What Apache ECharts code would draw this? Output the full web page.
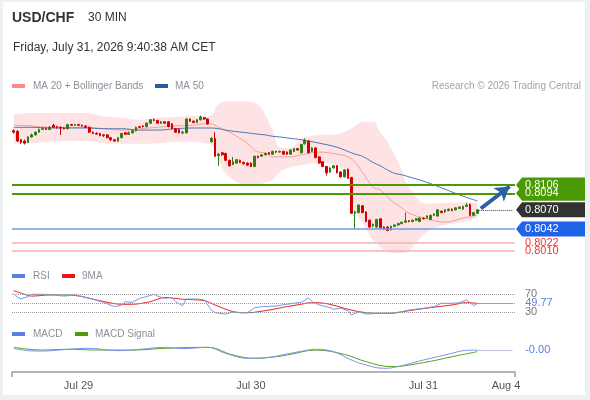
<!DOCTYPE html>
<html>
<head>
<meta charset="utf-8">
<title>USD/CHF 30 MIN</title>
<script src="https://cdn.jsdelivr.net/npm/echarts@6/dist/echarts.min.js"></script>
<style>
    html, body { margin: 0; padding: 0; background: #fff; }
    #wrap { position: relative; width: 590px; height: 400px; }
    #chart_1 { width: 590px; height: 400px; }
    #frame {
        position: absolute; left: 0; top: 0; width: 582px; height: 393px;
        border-style: solid; border-color: #edf1f4; border-width: 2px 5px 5px 3px;
        pointer-events: none;
    }
</style>
</head>
<body>
<div id="wrap">
    <div id="chart_1"></div>
    <div id="frame"></div>
</div>
<script>
// 30 min candles, Jul 28 afternoon -> Jul 31 09:30
var opens = [
    0.8185, 0.8184, 0.8172, 0.8170, 0.8168, 0.8176, 0.8179, 0.8183, 0.8187, 0.8188,
    0.8187, 0.8193, 0.8191, 0.8190, 0.8189, 0.8188, 0.8194, 0.8193, 0.8194, 0.8193,
    0.8192, 0.8190, 0.8183, 0.8181, 0.8181, 0.8179, 0.8179, 0.8175, 0.8172, 0.8170,
    0.8175, 0.8182, 0.8180, 0.8182, 0.8185, 0.8191, 0.8192, 0.8191, 0.8196, 0.8201,
    0.8200, 0.8196, 0.8198, 0.8198, 0.8195, 0.8188, 0.8187, 0.8182, 0.8182, 0.8202,
    0.8199, 0.8197, 0.8201, 0.8204, 0.8202, 0.8169, 0.8174, 0.8149, 0.8153, 0.8152,
    0.8142, 0.8136, 0.8138, 0.8142, 0.8139, 0.8138, 0.8138, 0.8133, 0.8148, 0.8148,
    0.8150, 0.8153, 0.8151, 0.8155, 0.8154, 0.8155, 0.8154, 0.8151, 0.8155, 0.8159,
    0.8153, 0.8166, 0.8170, 0.8155, 0.8160, 0.8147, 0.8140, 0.8133, 0.8125, 0.8131,
    0.8134, 0.8125, 0.8118, 0.8129, 0.8117, 0.8065, 0.8066, 0.8076, 0.8067, 0.8055,
    0.8047, 0.8045, 0.8057, 0.8045, 0.8045, 0.8041, 0.8046, 0.8048, 0.8050, 0.8052,
    0.8054, 0.8053, 0.8055, 0.8053, 0.8058, 0.8058, 0.8056, 0.8062, 0.8061, 0.8068,
    0.8067, 0.8069, 0.8071, 0.8070, 0.8072, 0.8071, 0.8075, 0.8078, 0.8062, 0.8065
];
var closes = [
    0.8183, 0.8170, 0.8168, 0.8167, 0.8176, 0.8179, 0.8183, 0.8187, 0.8188, 0.8187,
    0.8190, 0.8190, 0.8190, 0.8189, 0.8188, 0.8194, 0.8193, 0.8194, 0.8193, 0.8192,
    0.8190, 0.8183, 0.8181, 0.8180, 0.8178, 0.8178, 0.8175, 0.8172, 0.8170, 0.8175,
    0.8181, 0.8180, 0.8182, 0.8185, 0.8190, 0.8190, 0.8191, 0.8196, 0.8201, 0.8200,
    0.8196, 0.8198, 0.8196, 0.8191, 0.8188, 0.8183, 0.8182, 0.8183, 0.8202, 0.8199,
    0.8197, 0.8201, 0.8205, 0.8202, 0.8195, 0.8174, 0.8148, 0.8151, 0.8150, 0.8142,
    0.8134, 0.8140, 0.8143, 0.8139, 0.8137, 0.8135, 0.8133, 0.8148, 0.8146, 0.8150,
    0.8152, 0.8151, 0.8155, 0.8154, 0.8155, 0.8151, 0.8151, 0.8157, 0.8159, 0.8157,
    0.8165, 0.8171, 0.8153, 0.8160, 0.8146, 0.8138, 0.8133, 0.8124, 0.8131, 0.8134,
    0.8124, 0.8118, 0.8128, 0.8116, 0.8065, 0.8067, 0.8077, 0.8066, 0.8053, 0.8045,
    0.8049, 0.8056, 0.8044, 0.8042, 0.8040, 0.8046, 0.8048, 0.8050, 0.8052, 0.8054,
    0.8053, 0.8055, 0.8057, 0.8058, 0.8057, 0.8061, 0.8062, 0.8064, 0.8070, 0.8066,
    0.8070, 0.8071, 0.8069, 0.8073, 0.8074, 0.8075, 0.8077, 0.8062, 0.8066, 0.8070
];
var lows = [
    0.8181, 0.8169, 0.8166, 0.8165, 0.8167, 0.8175, 0.8178, 0.8182, 0.8186, 0.8186,
    0.8186, 0.8189, 0.8188, 0.8179, 0.8187, 0.8187, 0.8192, 0.8192, 0.8192, 0.8191,
    0.8189, 0.8182, 0.8180, 0.8179, 0.8177, 0.8176, 0.8174, 0.8170, 0.8169, 0.8169,
    0.8174, 0.8179, 0.8179, 0.8181, 0.8184, 0.8189, 0.8190, 0.8190, 0.8195, 0.8199,
    0.8195, 0.8195, 0.8195, 0.8190, 0.8187, 0.8182, 0.8181, 0.8180, 0.8181, 0.8198,
    0.8196, 0.8196, 0.8200, 0.8201, 0.8194, 0.8168, 0.8147, 0.8134, 0.8149, 0.8141,
    0.8133, 0.8135, 0.8137, 0.8138, 0.8136, 0.8134, 0.8132, 0.8132, 0.8145, 0.8147,
    0.8149, 0.8150, 0.8150, 0.8153, 0.8153, 0.8150, 0.8150, 0.8150, 0.8154, 0.8156,
    0.8152, 0.8165, 0.8152, 0.8154, 0.8145, 0.8137, 0.8132, 0.8120, 0.8124, 0.8130,
    0.8123, 0.8117, 0.8117, 0.8115, 0.8064, 0.8042, 0.8065, 0.8065, 0.8052, 0.8044,
    0.8045, 0.8044, 0.8043, 0.8041, 0.8039, 0.8040, 0.8045, 0.8047, 0.8049, 0.8051,
    0.8052, 0.8052, 0.8054, 0.8052, 0.8056, 0.8057, 0.8055, 0.8061, 0.8060, 0.8065,
    0.8066, 0.8068, 0.8068, 0.8069, 0.8071, 0.8070, 0.8074, 0.8061, 0.8061, 0.8064
];
var highs = [
    0.8187, 0.8186, 0.8173, 0.8172, 0.8177, 0.8181, 0.8184, 0.8188, 0.8190, 0.8190,
    0.8192, 0.8195, 0.8192, 0.8191, 0.8190, 0.8195, 0.8195, 0.8195, 0.8195, 0.8194,
    0.8193, 0.8191, 0.8184, 0.8183, 0.8182, 0.8180, 0.8180, 0.8176, 0.8173, 0.8176,
    0.8182, 0.8183, 0.8184, 0.8186, 0.8191, 0.8192, 0.8193, 0.8197, 0.8202, 0.8203,
    0.8201, 0.8199, 0.8199, 0.8199, 0.8196, 0.8189, 0.8188, 0.8185, 0.8203, 0.8203,
    0.8200, 0.8202, 0.8207, 0.8205, 0.8203, 0.8176, 0.8183, 0.8153, 0.8154, 0.8153,
    0.8143, 0.8147, 0.8144, 0.8143, 0.8140, 0.8139, 0.8139, 0.8149, 0.8149, 0.8151,
    0.8153, 0.8154, 0.8156, 0.8156, 0.8156, 0.8156, 0.8155, 0.8158, 0.8160, 0.8160,
    0.8166, 0.8174, 0.8171, 0.8161, 0.8161, 0.8148, 0.8141, 0.8134, 0.8132, 0.8135,
    0.8135, 0.8126, 0.8129, 0.8130, 0.8118, 0.8069, 0.8078, 0.8077, 0.8068, 0.8056,
    0.8050, 0.8057, 0.8058, 0.8046, 0.8046, 0.8047, 0.8049, 0.8051, 0.8053, 0.8066,
    0.8055, 0.8056, 0.8058, 0.8059, 0.8059, 0.8062, 0.8063, 0.8065, 0.8071, 0.8069,
    0.8071, 0.8072, 0.8072, 0.8074, 0.8075, 0.8076, 0.8080, 0.8079, 0.8067, 0.8071
];

// MA 20, Bollinger bands and MA 50, read at these candle positions
var bandIdx = [0, 5, 10, 15, 20, 25, 30, 35, 40, 45, 50, 53, 55, 57, 60, 65, 68, 70, 72, 74, 77,
    80, 85, 90, 93, 95, 97, 100, 102, 104, 106, 108, 110, 115, 120, 125, 129];
var bbUpper = [0.8209, 0.8211, 0.8211, 0.8211, 0.8211, 0.8206, 0.8204, 0.8201, 0.8204, 0.8205, 0.8207,
    0.8206, 0.8208, 0.8224, 0.8228, 0.8228, 0.8222, 0.8208, 0.8186, 0.8161, 0.8160,
    0.8173, 0.8179, 0.8180, 0.8186, 0.8192, 0.8198, 0.8198, 0.8183, 0.8169, 0.8150,
    0.8128, 0.8103, 0.8079, 0.8080, 0.8081, 0.8081];
var bbLower = [0.8167, 0.8167, 0.8169, 0.8170, 0.8170, 0.8167, 0.8166, 0.8166, 0.8167, 0.8169, 0.8169,
    0.8167, 0.8165, 0.8142, 0.8118, 0.8106, 0.8106, 0.8110, 0.8113, 0.8125, 0.8132,
    0.8135, 0.8138, 0.8134, 0.8116, 0.8070, 0.8052, 0.8026, 0.8016, 0.8009, 0.8007,
    0.8007, 0.8011, 0.8038, 0.8048, 0.8052, 0.8058];
var ma20 = [0.8193, 0.8192, 0.8190, 0.8190, 0.8190, 0.8188, 0.8186, 0.8188, 0.8190, 0.8192, 0.8193,
    0.8195, 0.8195, 0.8190, 0.8183, 0.8167, 0.8154, 0.8153, 0.8147, 0.8147, 0.8147,
    0.8150, 0.8154, 0.8151, 0.8147, 0.8139, 0.8125, 0.8103, 0.8099, 0.8089, 0.8080,
    0.8073, 0.8065, 0.8057, 0.8052, 0.8058, 0.8062];
var ma50 = [0.8190, 0.8190, 0.8189, 0.8189, 0.8189, 0.8188, 0.8188, 0.8186, 0.8186, 0.8188, 0.8189,
    0.8189, 0.8189, 0.8188, 0.8185, 0.8182, 0.8180, 0.8179, 0.8177, 0.8176, 0.8174,
    0.8172, 0.8167, 0.8161, 0.8155, 0.8151, 0.8148, 0.8139, 0.8134, 0.8128, 0.8123,
    0.8121, 0.8118, 0.8110, 0.8100, 0.8090, 0.8083];

var resistLevels = [0.8106, 0.8094];
var supportLevels = [0.8042, 0.8022, 0.8010];

// RSI and its 9 period MA
var rsiIdx = [0, 1, 2, 4, 5, 8, 11, 14, 17, 19, 22, 25, 28, 30, 31, 33, 35, 37, 39, 40, 42, 44, 45, 47, 48,
    51, 53, 55, 56, 59, 61, 63, 65, 67, 69, 73, 76, 79, 80, 82, 83, 85, 88, 89, 91, 93, 94, 96, 98,
    101, 105, 108, 110, 114, 117, 119, 122, 124, 126, 128, 129];
var rsi = [72, 63, 60, 65, 70, 70, 68.5, 66, 68.5, 65, 59, 52, 42.6, 46, 53.7, 52, 61, 65, 70, 66, 61, 63, 54, 44.5, 59.6,
    59.6, 57.4, 35, 29, 26, 31, 29, 29, 40, 42.6, 44, 47.8, 51.5, 52, 62, 53.7, 46.3, 40.4, 36.7, 39, 33.7, 24, 31.5, 26,
    27.8, 27.8, 31.5, 35, 38.9, 42.6, 50, 50, 51.5, 57.4, 44.8, 49.77];
var rsiMaIdx = [0, 3, 5, 10, 15, 19, 23, 30, 33, 38, 42, 47, 53, 56, 61, 65, 71, 76, 80, 81, 84, 88, 92, 96,
    101, 105, 110, 116, 122, 126, 129];
var rsiMa = [78, 70, 66, 68.5, 68.5, 65, 57.4, 47.8, 47.8, 53.7, 63, 59, 56, 46.3, 31.5, 29, 35, 42.6, 47.8, 50,
    51.5, 47.8, 38.9, 31.5, 27.8, 27.8, 33.7, 40.4, 46.3, 51.5, 50];
var rsiLevels = [70, 50, 30];

// MACD and signal
var macdIdx = [0, 4, 8, 15, 21, 29, 35, 42, 47, 54, 59, 65, 71, 76, 80, 84, 89, 94, 98, 103, 106, 114, 122, 125, 129];
var macd = [0.00013, -0.00013, -0.00017, 0.00002, 0.00013, -0.00013, 0.00002, 0.00024, 0.0001, 0.00024,
    -0.00043, -0.00098, -0.00087, -0.0005, -0.0002, 0.00002, -0.00024, -0.00117, -0.00172, -0.00209,
    -0.00198, -0.00117, -0.00042, -0.00013, -0.00006];
var signalIdx = [0, 8, 15, 24, 33, 42, 54, 61, 67, 73, 77, 84, 92, 98, 105, 114, 122, 129];
var signal = [0.00024, -0.00006, 0.00002, -0.00006, -0.00006, 0.00013, 0.00024, -0.00061, -0.00098, -0.0008,
    -0.00054, -0.00006, -0.00054, -0.00135, -0.0019, -0.00146, -0.0008, -0.00024];

// x axis: 140 half hour slots, labels on these slots
var tickLabels = ['Jul 29', 'Jul 30', 'Jul 31', 'Aug 4'];
var tickIdx = [18, 66, 114, 137];

var slots = [];
for (var s = 0; s < 140; s++) slots.push(String(s));

var pair = function (idx, vals) {
    return idx.map(function (k, j) { return [k, vals[j]]; });
};

var ohlc = opens.map(function (o, i) { return [o, closes[i], lows[i], highs[i]]; });
var last = closes.length - 1;
var lastClose = closes[last];
var lastRsi = rsi[rsi.length - 1];
var lastMacd = macd[macd.length - 1];

var FONT = 'Arial, "Liberation Sans", sans-serif';
var myChart = echarts.init(document.getElementById('chart_1'));

function levelLine(v, color, width, label) {
    return {
        yAxis: v,
        lineStyle: {color: color, width: width, type: 'solid'},
        label: label ? {show: true, position: 'end', distance: 10, formatter: v.toFixed(4),
            color: '#f03434', fontSize: 11, fontFamily: FONT} : {show: false}
    };
}

function tail(y, color, type, labelText, labelColor) {
    var ls = {color: color, width: 1, type: type};
    var lb = labelText ? {show: true, position: 'end', distance: 12, formatter: labelText,
        color: labelColor, fontSize: 11, fontFamily: FONT} : {show: false};
    return [{coord: [last, y], lineStyle: ls, label: lb}, {coord: [139, y], lineStyle: ls, label: lb}];
}

var dotted = {color: '#9a9a9a', width: 1, type: 'dotted'};

var option = {
    animation: false,
    backgroundColor: '#fff',
    textStyle: {fontFamily: FONT},
    grid: [
        {left: 12, right: 75, top: 95, height: 163},
        {left: 12, right: 75, top: 289.8, height: 27},
        {left: 12, right: 75, top: 340.5, height: 31.5}
    ],
    xAxis: [
        {type: 'category', gridIndex: 0, data: slots, boundaryGap: true, show: false},
        {type: 'category', gridIndex: 1, data: slots, boundaryGap: true, show: false},
        {
            type: 'category', gridIndex: 2, data: slots, boundaryGap: true,
            axisLine: {onZero: false, lineStyle: {color: '#b4b4b4', width: 2}},
            axisTick: {show: false},
            splitLine: {show: false},
            axisLabel: {
                interval: function (index) { return tickIdx.indexOf(index) >= 0; },
                formatter: function (value, index) {
                    var k = tickIdx.indexOf(index);
                    return k >= 0 ? tickLabels[k] : '';
                },
                color: '#555', fontSize: 11, margin: 8
            }
        }
    ],
    yAxis: [
        {gridIndex: 0, min: 0.8000, max: 0.8237, show: false},
        {gridIndex: 1, min: 20, max: 80, show: false},
        {gridIndex: 2, min: -0.0025, max: 0.0010, show: false}
    ],
    series: [
        {
            name: 'BB upper', type: 'line', xAxisIndex: 0, yAxisIndex: 0,
            data: pair(bandIdx, bbUpper), smooth: 0.4, symbol: 'none', silent: true,
            lineStyle: {width: 0}, areaStyle: {color: '#fde3e3', opacity: 1, origin: 'start'}, z: 1
        },
        {
            name: 'BB lower', type: 'line', xAxisIndex: 0, yAxisIndex: 0,
            data: pair(bandIdx, bbLower), smooth: 0.4, symbol: 'none', silent: true,
            lineStyle: {width: 0}, areaStyle: {color: '#ffffff', opacity: 1, origin: 'start'}, z: 1
        },
        {
            name: 'MA 20', type: 'line', xAxisIndex: 0, yAxisIndex: 0,
            data: pair(bandIdx, ma20), smooth: 0.4, symbol: 'none',
            lineStyle: {color: '#f59d9d', width: 1}, z: 3
        },
        {
            name: 'MA 50', type: 'line', xAxisIndex: 0, yAxisIndex: 0,
            data: pair(bandIdx, ma50), smooth: 0.4, symbol: 'none',
            lineStyle: {color: '#5074b8', width: 1}, z: 3
        },
        {
            name: 'USD/CHF', type: 'candlestick', xAxisIndex: 0, yAxisIndex: 0,
            data: ohlc, barWidth: '60%', z: 4,
            itemStyle: {color: '#2f7d14', color0: '#d20000', borderColor: '#2f7d14', borderColor0: '#d20000', borderWidth: 1},
            markLine: {
                silent: true, symbol: ['none', 'none'], animation: false, precision: 6, z: 6,
                data: [
                    levelLine(resistLevels[0], '#4a9a06', 2, false),
                    levelLine(resistLevels[1], '#4a9a06', 2, false),
                    levelLine(supportLevels[0], '#6f9be8', 1.5, false),
                    levelLine(supportLevels[1], '#f8b0b0', 1.5, true),
                    levelLine(supportLevels[2], '#f8b0b0', 1.5, true),
                    tail(lastClose, '#444', 'dotted', null, null),
                    [
                        {coord: [last + 1, lastClose + 0.0002], symbol: 'none',
                            lineStyle: {color: '#2d5fa8', width: 4, type: 'solid'}, label: {show: false}},
                        {coord: [138, resistLevels[0] - 0.0002], symbol: 'arrow', symbolSize: [13, 14],
                            lineStyle: {color: '#2d5fa8', width: 4, type: 'solid'}, label: {show: false}}
                    ]
                ]
            }
        },
        {
            name: 'RSI', type: 'line', xAxisIndex: 1, yAxisIndex: 1,
            data: pair(rsiIdx, rsi), symbol: 'none',
            lineStyle: {color: '#7797ea', width: 1}, z: 3,
            markLine: {
                silent: true, symbol: ['none', 'none'], animation: false, precision: 6,
                data: [
                    {yAxis: rsiLevels[0], lineStyle: dotted, label: {position: 'end', distance: 10, formatter: String(rsiLevels[0]), color: '#777', fontSize: 11}},
                    {yAxis: rsiLevels[1], lineStyle: dotted, label: {show: false}},
                    {yAxis: rsiLevels[2], lineStyle: dotted, label: {position: 'end', distance: 10, formatter: String(rsiLevels[2]), color: '#777', fontSize: 11}},
                    tail(lastRsi, '#6b8ee6', 'dotted', lastRsi.toFixed(2), '#5b7fe0')
                ]
            }
        },
        {
            name: '9MA', type: 'line', xAxisIndex: 1, yAxisIndex: 1,
            data: pair(rsiMaIdx, rsiMa), smooth: 0.3, symbol: 'none',
            lineStyle: {color: '#ee2020', width: 1}, z: 2
        },
        {
            name: 'MACD', type: 'line', xAxisIndex: 2, yAxisIndex: 2,
            data: pair(macdIdx, macd), smooth: 0.4, symbol: 'none',
            lineStyle: {color: '#7797ea', width: 1}, z: 3,
            markLine: {
                silent: true, symbol: ['none', 'none'], animation: false, precision: 8,
                data: [tail(lastMacd, '#6b8ee6', 'dotted', lastMacd.toFixed(2), '#5b7fe0')]
            }
        },
        {
            name: 'MACD Signal', type: 'line', xAxisIndex: 2, yAxisIndex: 2,
            data: pair(signalIdx, signal), smooth: 0.4, symbol: 'none',
            lineStyle: {color: '#5aa01a', width: 1}, z: 2
        }
    ]
};

myChart.setOption(option);

function txt(x, y, text, size, color, extra) {
    var st = {text: text, fontSize: size, fontFamily: FONT, fill: color, verticalAlign: 'middle'};
    if (extra) for (var k in extra) st[k] = extra[k];
    return {type: 'text', x: x, y: y, silent: true, z: 10, style: st};
}
function icon(x, y, color) {
    return {type: 'rect', silent: true, z: 10, shape: {x: x, y: y - 2, width: 13, height: 4}, style: {fill: color}};
}
// price tag with a left pointing tip, placed through the price scale
function tag(value, fill) {
    var y = myChart.convertToPixel({yAxisIndex: 0}, value);
    return [
        {type: 'polygon', silent: true, z: 20,
            shape: {points: [[516, y], [522, y - 7.5], [586, y - 7.5], [586, y + 7.5], [522, y + 7.5]]},
            style: {fill: fill}},
        {type: 'text', silent: true, z: 21, x: 525, y: y,
            style: {text: value.toFixed(4), fill: '#fff', fontSize: 11, fontFamily: FONT, verticalAlign: 'middle'}}
    ];
}

var graphics = [
    txt(12, 18, 'USD/CHF', 14, '#333', {fontWeight: 'bold'}),
    txt(88, 18, '30 MIN', 12, '#333'),
    txt(13, 48, 'Friday, July 31, 2026 9:40:38 AM CET', 12, '#333'),
    icon(12, 86, '#f88a8a'), txt(33, 86, 'MA 20 + Bollinger Bands', 10, '#8a909a'),
    icon(155, 86, '#2d5a9c'), txt(175, 86, 'MA 50', 10, '#8a909a'),
    txt(581, 86, 'Research \u00a9 2026 Trading Central', 10, '#a0a4ad', {align: 'right'}),
    icon(12, 276, '#5b7fe0'), txt(33, 276, 'RSI', 10, '#8a909a'),
    icon(62, 276, '#e81818'), txt(82, 276, '9MA', 10, '#8a909a'),
    icon(12, 334, '#5b7fe0'), txt(33, 334, 'MACD', 10, '#8a909a'),
    icon(75, 334, '#4f9a10'), txt(95, 334, 'MACD Signal', 10, '#8a909a'),
    {type: 'line', silent: true, z: 10, shape: {x1: 12, y1: 372, x2: 12, y2: 377}, style: {stroke: '#b4b4b4', lineWidth: 2}},
    {type: 'line', silent: true, z: 10, shape: {x1: 515, y1: 372, x2: 515, y2: 377}, style: {stroke: '#b4b4b4', lineWidth: 2}}
];
graphics = graphics
    .concat(tag(resistLevels[1], '#4a9a06'))
    .concat(tag(resistLevels[0], '#4a9a06'))
    .concat(tag(lastClose, '#333333'))
    .concat(tag(supportLevels[0], '#1f63e6'));

myChart.setOption({graphic: graphics});

window.addEventListener('resize', function () {
    myChart.resize();
});
</script>
</body>
</html>
